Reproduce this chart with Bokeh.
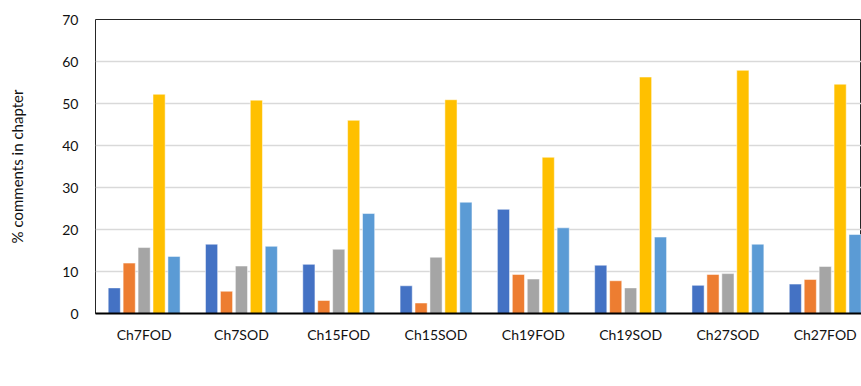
from bokeh.plotting import figure
from bokeh.models import Range1d, FixedTicker, Legend, LegendItem, ColumnDataSource
from bokeh.embed import file_html
from bokeh.resources import INLINE

chapters = ["Ch7FOD", "Ch7SOD", "Ch15FOD", "Ch15SOD", "Ch19FOD", "Ch19SOD", "Ch27SOD", "Ch27FOD"]
minor = [6.1, 16.5, 11.7, 6.6, 24.8, 11.5, 6.7, 7.0]
policy = [12.0, 5.3, 3.1, 2.5, 9.3, 7.8, 9.3, 8.1]
reference = [15.7, 11.3, 15.3, 13.4, 8.2, 6.1, 9.5, 11.2]
science = [52.2, 50.8, 46.0, 50.9, 37.2, 56.3, 57.9, 54.6]
style = [13.6, 16.0, 23.8, 26.5, 20.4, 18.2, 16.5, 18.8]
y_ticks = [0, 10, 20, 30, 40, 50, 60, 70]

series_names = ["Minor", "Policy", "Reference", "Science", "Style"]
series_values = [minor, policy, reference, science, style]
series_colors = ["#4472C4", "#ED7D31", "#A5A5A5", "#FFC000", "#5B9BD5"]

FONT = "Lato"
slot = 0.1535
bar_w = 0.125

p = figure(frame_width=766, frame_height=294, output_backend="svg", toolbar_location=None,
           x_range=Range1d(0, 7.873), y_range=Range1d(0, 70),
           min_border_left=95, min_border_right=0, min_border_top=19, min_border_bottom=0)

centers = [i + 0.5 for i in range(len(chapters))]
items = []
for k, (name, vals, col) in enumerate(zip(series_names, series_values, series_colors)):
    xs = [c + (k - 2) * slot for c in centers]
    src = ColumnDataSource(dict(x=xs, top=vals))
    r = p.vbar(x="x", top="top", width=bar_w, bottom=0, source=src,
               fill_color=col, line_color="white", line_alpha=0.5, line_width=1)
    items.append(LegendItem(label=name, renderers=[r]))

p.xgrid.visible = False
p.ygrid.grid_line_color = "#D9D9D9"
p.ygrid.grid_line_width = 1.5
p.outline_line_color = "#262626"
p.outline_line_width = 1

p.yaxis.ticker = FixedTicker(ticks=y_ticks)
p.yaxis.major_tick_line_color = None
p.yaxis.minor_tick_line_color = None
p.yaxis.axis_line_color = None
p.yaxis.major_label_text_font = FONT
p.yaxis.major_label_text_font_size = "14px"
p.yaxis.major_label_text_color = "#111111"
p.yaxis.major_label_standoff = 11
p.yaxis.axis_label = "% comments in chapter"
p.yaxis.axis_label_text_font = FONT
p.yaxis.axis_label_text_font_size = "15px"
p.yaxis.axis_label_text_font_style = "normal"
p.yaxis.axis_label_text_color = "#111111"
p.yaxis.axis_label_standoff = 33

p.xaxis.ticker = FixedTicker(ticks=centers)
p.xaxis.major_label_overrides = {c: n for c, n in zip(centers, chapters)}
p.xaxis.major_tick_line_color = None
p.xaxis.minor_tick_line_color = None
p.xaxis.axis_line_color = "black"
p.xaxis.axis_line_width = 2
p.xaxis.major_label_text_font = FONT
p.xaxis.major_label_text_font_size = "14px"
p.xaxis.major_label_text_color = "#111111"
p.xaxis.major_label_standoff = 6

legend = Legend(items=items, orientation="horizontal", location="center",
                glyph_width=10, glyph_height=10, label_text_font=FONT,
                label_text_font_size="16px", label_text_color="#111111",
                spacing=16, label_standoff=5, padding=0, margin=6,
                border_line_color=None, background_fill_alpha=0)
p.add_layout(legend, "below")

open("out.html", "w").write(file_html(p, INLINE))
